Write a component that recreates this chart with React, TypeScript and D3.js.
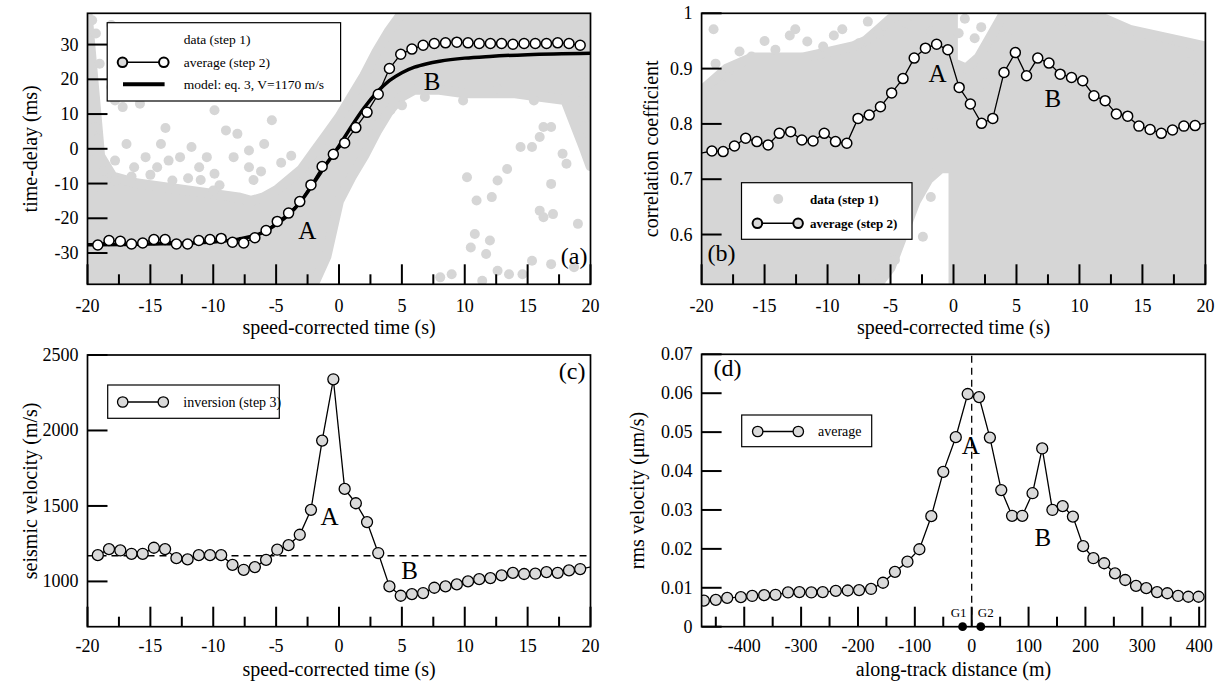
import React from "react";
import * as d3 from "d3";

const FONT = '"Liberation Serif", "Times New Roman", Times, serif';
const CLOUD = "#d6d6d6";
const FILL = "#dadada";

// ---------- shared speed-corrected time grid (s) ----------
const times = [-19.18,-18.29,-17.39,-16.50,-15.61,-14.72,-13.83,-12.93,-12.04,-11.15,-10.26,-9.37,-8.47,-7.58,-6.69,-5.80,-4.91,-4.01,-3.12,-2.23,-1.34,-0.45,0.45,1.34,2.23,3.12,4.01,4.91,5.80,6.69,7.58,8.47,9.37,10.26,11.15,12.04,12.93,13.83,14.72,15.61,16.50,17.39,18.29,19.18];

// ---------- (a) time-delay ----------
const delayAvg = [-27.7,-26.4,-26.6,-27.4,-27.1,-26.1,-26.1,-27.4,-27.4,-26.4,-26.1,-25.8,-26.9,-27.1,-25.6,-23.5,-20.9,-18.5,-15.2,-10.4,-5.1,-1.6,1.7,6.1,10.5,15.7,23.1,27.2,28.7,29.8,30.3,30.5,30.7,30.5,30.3,30.3,30.3,30.1,30.3,30.3,30.3,30.5,30.3,29.8];
const modelT = [-20,-15,-10,-8,-6,-5,-4,-3,-2,-1,0,1,2,3,4,5,6,7,8,10,12,15,20];
const modelDelay = [-27.6,-27.4,-26.8,-26.0,-24.0,-21.8,-19.0,-15.0,-9.8,-4.4,0.8,6.5,11.8,16.2,19.6,21.9,23.5,24.5,25.2,26.1,26.6,27.1,27.5];
// dense part of the step-1 data cloud (envelope)
const cloudAT = [-20,-19,-18,-16,-14,-12,-10,-8,-7,-6,-5,-4,-3,-2,-1,0,1,2,3,4,5,6,8,10,12,14,16,18,19.5,20];
const cloudALo = [-39,-39,-39,-39,-39,-39,-39,-39,-39,-39,-39,-39,-39,-39,-31,-15,-8,-2,5,11,15,17,17,16,16,16,15,14,0,-5];
const cloudAHi = [39,-2,-8,-10,-11,-12,-13,-14,-15,-14,-12,-9,-6,-1,4,9,15,21,28,34,39,39,39,39,39,39,39,39,39,39];
// sparse step-1 points
const aDotT = [-19.63,-18.11,-19.33,-17.81,-19.79,-19.03,-19.63,-18.11,-17.81,-15.83,-19.33,-19.18,-19.63,-18.72,-17.81,-16.90,-15.38,-14.16,-13.55,-12.64,-11.73,-11.12,-9.90,-8.99,-8.08,-7.16,-5.95,-5.34,-7.16,-8.38,-10.51,-14.46,-16.29,-17.81,-19.03,-13.25,-9.90,10.18,10.94,12.15,13.37,12.61,14.44,15.35,15.96,16.26,16.87,17.78,18.09,16.87,15.96,16.26,17.02,19.0,12.0,11.70,10.48,15.35,14.59,16.87,18.69,19.61,19.30,19.61,15.50,12.61,9.87,6.83,5.01,4.09,3.18,1.81,8.05,8.96,11.39,12.61,13.52,10.8,-16.5,-15.0,-12.0,-11.0,-9.5,-6.8,-6.2,-4.6,-3.8,-17.2,-13.8,-10.0];
const aDotY = [37.0,35.6,33.2,30.3,27.4,24.5,20.7,17.8,13.9,13.0,6.3,2.9,-0.5,-6.3,-3.4,1.4,-2.4,1.4,-3.4,-2.4,0.5,-5.3,11.1,5.3,4.3,-0.5,1.4,8.2,-5.3,-2.4,-2.4,-5.3,-5.3,-9.1,-11.1,-9.1,-7.2,-8.2,-14.9,-13.9,-5.8,-9.1,0.5,0.5,3.4,6.3,6.3,-1.4,-4.3,-10.1,-17.8,-19.7,-18.8,-21.6,-26.4,-30.3,-28.4,-32.2,-36.1,-33.2,-34.1,9.1,13.9,18.8,13.9,17.3,13.9,14.9,12.5,11.1,7.2,1.4,-37.0,-36.1,-38.0,-35.1,-36.1,-24.5,-8.0,-7.5,-8.5,-9.0,-10.5,-9.0,-6.5,-4.0,-2.0,12.0,6.0,-12.0];

// ---------- (b) correlation coefficient ----------
const corrAvg = [0.751,0.750,0.760,0.774,0.768,0.762,0.783,0.786,0.771,0.769,0.783,0.768,0.765,0.810,0.816,0.831,0.856,0.882,0.919,0.937,0.944,0.934,0.866,0.836,0.801,0.810,0.893,0.929,0.887,0.919,0.910,0.890,0.884,0.878,0.851,0.842,0.818,0.814,0.796,0.790,0.783,0.789,0.796,0.797];
const corrEdgeT = [-20.07, 20.07];
const corrEdgeV = [0.747, 0.802];
const cloudBLT = [-20,-18,-16,-14,-12,-10,-8,-7,-6,-5,-4,-3,-2,-1,-0.05];
const cloudBLHi = [0.86,0.90,0.92,0.92,0.92,0.93,0.94,0.95,0.97,0.99,1.0,1.0,1.0,1.0,1.0];
const cloudBLLo = [0.51,0.51,0.51,0.51,0.51,0.51,0.51,0.51,0.51,0.54,0.60,0.66,0.70,0.72,0.72];
const cloudBRT = [0,1,2,3,4,6,8,10,12,14,16,18,20];
const cloudBRHi = [0.91,0.90,0.92,0.96,1.0,1.0,1.0,1.0,0.99,0.97,0.96,0.95,0.94];
const cloudBRLo = [0.51,0.51,0.51,0.51,0.51,0.51,0.51,0.51,0.51,0.51,0.51,0.51,0.51];
const bDotT = [-19.05,-18.89,-17.94,-16.99,-12.56,-11.61,-8.83,-10.35,-14.14,-16.04,-7.50,-5.92,-3.70,-1.80,0.41,1.68,1.52,2.47,-1.48,-1.80,-2.43,-4.65,4.21,8.64,10.54,17.82,18.77,19.41,-15.0,-13.0,-9.5,-6.8,0.9,2.2];
const bDotV = [0.971,0.909,0.885,0.931,0.971,0.949,0.971,0.940,0.934,0.922,0.946,0.964,0.982,0.967,0.964,0.955,0.909,0.873,0.783,0.668,0.596,0.554,0.958,0.985,0.991,0.949,0.928,0.885,0.95,0.96,0.96,0.985,0.99,0.975];

// ---------- (c) seismic velocity ----------
const velInv = [1174,1214,1205,1183,1183,1223,1214,1154,1146,1174,1174,1174,1110,1077,1095,1143,1210,1240,1309,1474,1933,2339,1613,1518,1393,1188,967,905,916,923,958,967,980,1000,1015,1022,1040,1057,1049,1051,1062,1057,1073,1082];
const velEdgeT = 20.07;
const velEdgeV = 1097;
const velModel = 1170;

// ---------- (d) rms velocity ----------
const distX = [-471,-450,-430,-406,-386,-365,-345,-323,-303,-282,-262,-239,-218,-198,-177,-156,-135,-113,-92,-71,-50,-28,-7,13,32,52,71,89,107,124,142,160,178,196,214,233,252,270,289,307,326,344,363,381,399];
const rmsV = [0.0067,0.0069,0.0074,0.0076,0.0079,0.0081,0.0082,0.0088,0.0089,0.0088,0.0089,0.0092,0.0093,0.0094,0.0097,0.0113,0.0141,0.0167,0.0199,0.0284,0.0398,0.0487,0.0598,0.0590,0.0486,0.0351,0.0285,0.0285,0.0343,0.0458,0.0300,0.0310,0.0283,0.0207,0.0176,0.0163,0.0137,0.0120,0.0105,0.0099,0.0089,0.0086,0.0079,0.0077,0.0077];
const geophoneX = [-16, 16];
const geophoneNames = ["G1", "G2"];

// ---------- ticks ----------
const timeTicks = [-20,-15,-10,-5,0,5,10,15,20];
const timeTickLabels = ["-20","-15","-10","-5","0","5","10","15","20"];
const timeMinor = [-17.5,-12.5,-7.5,-2.5,2.5,7.5,12.5,17.5];
const delayTicks = [-30,-20,-10,0,10,20,30];
const delayTickLabels = ["-30","-20","-10","0","10","20","30"];
const corrTicks = [0.6,0.7,0.8,0.9,1];
const corrTickLabels = ["0.6","0.7","0.8","0.9","1"];
const velTicks = [1000,1500,2000,2500];
const velTickLabels = ["1000","1500","2000","2500"];
const distTicks = [-400,-300,-200,-100,0,100,200,300,400];
const distTickLabels = ["-400","-300","-200","-100","0","100","200","300","400"];
const distMinor = [-450,-350,-250,-150,-50,50,150,250,350];
const rmsTicks = [0,0.01,0.02,0.03,0.04,0.05,0.06,0.07];
const rmsTickLabels = ["0","0.01","0.02","0.03","0.04","0.05","0.06","0.07"];

type Sc = d3.ScaleLinear<number, number>;
const ff = { fontFamily: FONT };

function T(p: { x: number; y: number; s: number; a?: "start" | "middle" | "end"; w?: string; children: React.ReactNode; tr?: string }) {
  return (
    <text x={p.x} y={p.y} textAnchor={p.a || "start"} fontWeight={p.w} transform={p.tr}
      style={{ fontFamily: FONT, fontSize: p.s + "px" }} fill="#000">{p.children}</text>
  );
}

function Axes(p: {
  x: Sc; y: Sc; xt: number[]; xl: string[]; xm: number[]; yt: number[]; yl: string[];
  labelY: number; xTitle: string; xTitleY: number; yTitle: string; yTitleX: number;
}) {
  const [l, r] = p.x.range();
  const [b, t] = p.y.range();
  const cy = (t + b) / 2;
  return (
    <g>
      <rect x={l} y={t} width={r - l} height={b - t} fill="none" stroke="#000" strokeWidth={1.7} />
      {p.xt.map((v) => (
        <line key={"xM" + v} x1={p.x(v)} x2={p.x(v)} y1={b} y2={b - 20} stroke="#000" strokeWidth={2} />
      ))}
      {p.xm.map((v) => (
        <line key={"xm" + v} x1={p.x(v)} x2={p.x(v)} y1={b} y2={b - 10} stroke="#000" strokeWidth={2} />
      ))}
      {p.yt.map((v) => (
        <line key={"yM" + v} x1={l} x2={l + 20} y1={p.y(v)} y2={p.y(v)} stroke="#000" strokeWidth={2} />
      ))}
      {p.xt.map((v, i) => (
        <T key={"xl" + v} x={p.x(v)} y={p.labelY} a="middle" s={18}>{p.xl[i]}</T>
      ))}
      {p.yt.map((v, i) => (
        <T key={"yl" + v} x={l - 9} y={p.y(v) + 6} a="end" s={18}>{p.yl[i]}</T>
      ))}
      <T x={(l + r) / 2} y={p.xTitleY} a="middle" s={20}>{p.xTitle}</T>
      <T x={0} y={0} a="middle" s={20} tr={`translate(${p.yTitleX},${cy}) rotate(-90)`}>{p.yTitle}</T>
    </g>
  );
}

function Dots(p: { xs: number[]; ys: number[]; x: Sc; y: Sc; r: number; fill: string; stroke?: string; sw?: number }) {
  return (
    <g>
      {p.xs.map((v, i) => (
        <circle key={i} cx={p.x(v)} cy={p.y(p.ys[i])} r={p.r} fill={p.fill} stroke={p.stroke || "none"} strokeWidth={p.sw || 0} />
      ))}
    </g>
  );
}

function Cloud(p: { ts: number[]; lo: number[]; hi: number[]; x: Sc; y: Sc }) {
  const idx = p.ts.map((_, i) => i);
  const area = d3.area<number>().x((i) => p.x(p.ts[i])).y0((i) => p.y(p.lo[i])).y1((i) => p.y(p.hi[i]));
  return <path d={area(idx) || ""} fill={CLOUD} stroke={CLOUD} strokeWidth={10} strokeLinejoin="round" />;
}

function linePath(xs: number[], ys: number[], x: Sc, y: Sc, curve?: d3.CurveFactory) {
  const idx = xs.map((_, i) => i);
  const g = d3.line<number>().x((i) => x(xs[i])).y((i) => y(ys[i]));
  if (curve) g.curve(curve);
  return g(idx) || "";
}

export default function App() {
  const xa = d3.scaleLinear().domain([-20, 20]).range([87.5, 590.5]);
  const ya = d3.scaleLinear().domain([-39, 39]).range([284.3, 13.3]);
  const xb = d3.scaleLinear().domain([-20, 20]).range([701.6, 1205.4]);
  const yb = d3.scaleLinear().domain([0.51, 1]).range([284.3, 13.3]);
  const xc = d3.scaleLinear().domain([-20, 20]).range([87.5, 590.5]);
  const yc = d3.scaleLinear().domain([700, 2500]).range([626.7, 355]);
  const xd = d3.scaleLinear().domain([-475, 411]).range([701.6, 1205.4]);
  const yd = d3.scaleLinear().domain([0, 0.07]).range([626.7, 354.3]);

  const clip = (id: string, x: Sc, y: Sc) => {
    const [l, r] = x.range();
    const [b, t] = y.range();
    return (
      <clipPath id={id}>
        <rect x={l} y={t} width={r - l} height={b - t} />
      </clipPath>
    );
  };

  const corrLineT = [corrEdgeT[0], ...times, corrEdgeT[1]];
  const corrLineV = [corrEdgeV[0], ...corrAvg, corrEdgeV[1]];
  const velLineT = [...times, velEdgeT];
  const velLineV = [...velInv, velEdgeV];

  return (
    <svg width={1225} height={681} style={{ position: "absolute", left: 0, top: 0, ...ff }}>
      <rect width={1225} height={681} fill="#fff" />
      <defs>
        {clip("ca", xa, ya)}
        {clip("cb", xb, yb)}
        {clip("cc", xc, yc)}
        {clip("cd", xd, yd)}
      </defs>

      {/* ---------------- (a) ---------------- */}
      <g clipPath="url(#ca)">
        <Cloud ts={cloudAT} lo={cloudALo} hi={cloudAHi} x={xa} y={ya} />
        <Dots xs={aDotT} ys={aDotY} x={xa} y={ya} r={5} fill={CLOUD} />
        <path d={linePath(modelT, modelDelay, xa, ya, d3.curveMonotoneX)} fill="none" stroke="#000" strokeWidth={3.5} />
        <path d={linePath(times, delayAvg, xa, ya)} fill="none" stroke="#000" strokeWidth={1.3} />
        <Dots xs={times} ys={delayAvg} x={xa} y={ya} r={5} fill="#fff" stroke="#000" sw={1.5} />
      </g>
      <Axes x={xa} y={ya} xt={timeTicks} xl={timeTickLabels} xm={timeMinor} yt={delayTicks} yl={delayTickLabels}
        labelY={312} xTitle="speed-corrected time (s)" xTitleY={334} yTitle="time-delay (ms)" yTitleX={37} />
      <g>
        <rect x={107.2} y={22.7} width={233.4} height={78.3} fill="#fff" stroke="#000" strokeWidth={1.2} />
        <line x1={122.5} x2={163.8} y1={62.3} y2={62.3} stroke="#000" strokeWidth={1.5} />
        <circle cx={122.5} cy={62.3} r={4.8} fill={FILL} stroke="#000" strokeWidth={2} />
        <circle cx={163.8} cy={62.3} r={4.8} fill="#fff" stroke="#000" strokeWidth={2} />
        <line x1={123} x2={164.6} y1={84.3} y2={84.3} stroke="#000" strokeWidth={4} />
        <T x={183.7} y={43.8} s={13.5}>data (step 1)</T>
        <T x={183.7} y={66.8} s={13.5}>average (step 2)</T>
        <T x={183.7} y={88.8} s={13.5}>model: eq. 3, V=1170 m/s</T>
      </g>
      <T x={307.3} y={238.5} s={25} a="middle">A</T>
      <T x={432} y={90} s={25} a="middle">B</T>
      <T x={587.5} y={264} s={24} a="end">(a)</T>

      {/* ---------------- (b) ---------------- */}
      <g clipPath="url(#cb)">
        <Cloud ts={cloudBLT} lo={cloudBLLo} hi={cloudBLHi} x={xb} y={yb} />
        <Cloud ts={cloudBRT} lo={cloudBRLo} hi={cloudBRHi} x={xb} y={yb} />
        <Dots xs={bDotT} ys={bDotV} x={xb} y={yb} r={5} fill={CLOUD} />
        <path d={linePath(corrLineT, corrLineV, xb, yb)} fill="none" stroke="#000" strokeWidth={1.3} />
        <Dots xs={times} ys={corrAvg} x={xb} y={yb} r={5} fill="#fff" stroke="#000" sw={1.5} />
      </g>
      <Axes x={xb} y={yb} xt={timeTicks} xl={timeTickLabels} xm={timeMinor} yt={corrTicks} yl={corrTickLabels}
        labelY={312} xTitle="speed-corrected time (s)" xTitleY={334} yTitle="correlation coefficient" yTitleX={658} />
      <g>
        <rect x={741.5} y={182.7} width={170.5} height={56.6} fill="#fff" stroke="#000" strokeWidth={1.2} />
        <circle cx={778.2} cy={199} r={5} fill={CLOUD} />
        <line x1={757.4} x2={798.1} y1={223.3} y2={223.3} stroke="#000" strokeWidth={1.5} />
        <circle cx={757.4} cy={223.3} r={4.8} fill={FILL} stroke="#000" strokeWidth={2} />
        <circle cx={798.1} cy={223.3} r={4.8} fill={FILL} stroke="#000" strokeWidth={2} />
        <T x={810} y={203.5} s={13} w="bold">data (step 1)</T>
        <T x={810} y={227.8} s={13} w="bold">average (step 2)</T>
      </g>
      <T x={937.5} y={81.7} s={25} a="middle">A</T>
      <T x={1052.8} y={107.3} s={25} a="middle">B</T>
      <T x={707.6} y={261} s={24}>(b)</T>

      {/* ---------------- (c) ---------------- */}
      <g clipPath="url(#cc)">
        <line x1={xc(-20)} x2={xc(20)} y1={yc(velModel)} y2={yc(velModel)} stroke="#000" strokeWidth={1.3} strokeDasharray="7,5" />
        <path d={linePath(velLineT, velLineV, xc, yc)} fill="none" stroke="#000" strokeWidth={1.3} />
        <Dots xs={times} ys={velInv} x={xc} y={yc} r={5.5} fill={FILL} stroke="#000" sw={1.3} />
      </g>
      <Axes x={xc} y={yc} xt={timeTicks} xl={timeTickLabels} xm={timeMinor} yt={velTicks} yl={velTickLabels}
        labelY={652} xTitle="speed-corrected time (s)" xTitleY={676} yTitle="seismic velocity (m/s)" yTitleX={37} />
      <g>
        <rect x={107.7} y={385} width={171.6} height={33.3} fill="#fff" stroke="#000" strokeWidth={1.2} />
        <line x1={122.7} x2={163.3} y1={402} y2={402} stroke="#000" strokeWidth={1.5} />
        <circle cx={122.7} cy={402} r={5.2} fill={FILL} stroke="#000" strokeWidth={1.3} />
        <circle cx={163.3} cy={402} r={5.2} fill={FILL} stroke="#000" strokeWidth={1.3} />
        <T x={183.3} y={406.8} s={14}>inversion (step 3)</T>
      </g>
      <T x={329.5} y={525} s={25} a="middle">A</T>
      <T x={409.5} y={579.3} s={25} a="middle">B</T>
      <T x={585.5} y={379} s={24} a="end">(c)</T>

      {/* ---------------- (d) ---------------- */}
      <g clipPath="url(#cd)">
        <line x1={xd(0)} x2={xd(0)} y1={yd(0)} y2={yd(0.07)} stroke="#000" strokeWidth={1.3} strokeDasharray="7,5" />
        <path d={linePath(distX, rmsV, xd, yd)} fill="none" stroke="#000" strokeWidth={1.3} />
        <Dots xs={distX} ys={rmsV} x={xd} y={yd} r={5.5} fill={FILL} stroke="#000" sw={1.3} />
      </g>
      <Axes x={xd} y={yd} xt={distTicks} xl={distTickLabels} xm={distMinor} yt={rmsTicks} yl={rmsTickLabels}
        labelY={652} xTitle="along-track distance (m)" xTitleY={676} yTitle="rms velocity (μm/s)" yTitleX={644} />
      {geophoneX.map((g, i) => (
        <g key={g}>
          <circle cx={xd(g)} cy={yd(0)} r={4.4} fill="#000" />
          <T x={xd(g) + (i === 0 ? -4 : 5)} y={617.3} s={13} a="middle">{geophoneNames[i]}</T>
        </g>
      ))}
      <g>
        <rect x={741.7} y={415} width={130} height={31.7} fill="#fff" stroke="#000" strokeWidth={1.2} />
        <line x1={757.7} x2={798.3} y1={431.5} y2={431.5} stroke="#000" strokeWidth={1.5} />
        <circle cx={757.7} cy={431.5} r={5.2} fill={FILL} stroke="#000" strokeWidth={1.3} />
        <circle cx={798.3} cy={431.5} r={5.2} fill={FILL} stroke="#000" strokeWidth={1.3} />
        <T x={818} y={435.5} s={14}>average</T>
      </g>
      <T x={970.8} y={454} s={25} a="middle">A</T>
      <T x={1042.8} y={546} s={25} a="middle">B</T>
      <T x={713.6} y={376} s={24}>(d)</T>
    </svg>
  );
}
